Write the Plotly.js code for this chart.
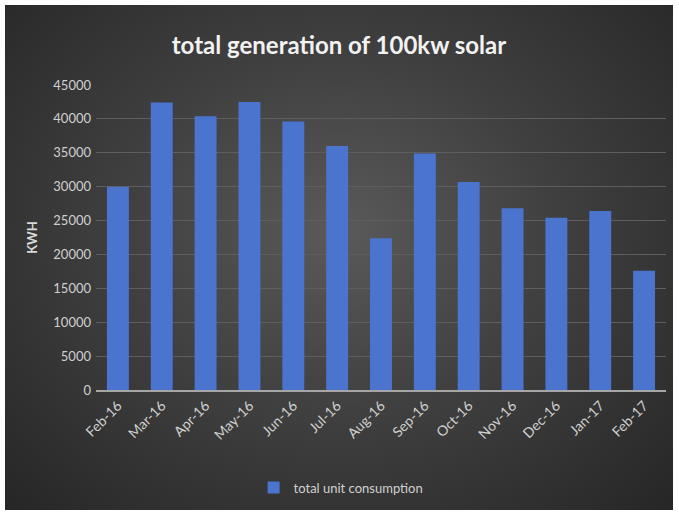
<!DOCTYPE html>
<html>
<head>
<meta charset="utf-8">
<script src="https://cdn.plot.ly/plotly-3.0.1.min.js"></script>
<style>
  html, body { margin: 0; padding: 0; background: #ffffff; width: 679px; height: 516px; overflow: hidden; }
  #chart {
    position: absolute; left: 5px; top: 5px; width: 668px; height: 505px;
    background: radial-gradient(ellipse at 50% 45%, #5a5a5a 0%, #404040 45%, #262626 100%);
  }
</style>
</head>
<body>
<div id="chart"></div>
<script>
const months = ["Feb-16","Mar-16","Apr-16","May-16","Jun-16","Jul-16","Aug-16","Sep-16","Oct-16","Nov-16","Dec-16","Jan-17","Feb-17"];
const generation = [30000, 42400, 40400, 42500, 39600, 36000, 22400, 34900, 30700, 26800, 25400, 26400, 17600];
const seriesName = "total unit consumption";
const yTicks = [0,5000,10000,15000,20000,25000,30000,35000,40000,45000];

const trace = {
  type: "bar",
  x: months,
  y: generation,
  name: seriesName,
  marker: { color: "#4a74cd", line: { width: 0 } },
  hoverinfo: "x+y"
};

const layout = {
  width: 668, height: 505,
  paper_bgcolor: "rgba(0,0,0,0)",
  plot_bgcolor: "rgba(0,0,0,0)",
  font: { family: "Lato, 'Open Sans', sans-serif", color: "#d9d9d9", size: 13 },
  margin: { l: 91, r: 7, t: 80, b: 118 },
  title: {
    text: "<b>total generation of 100kw solar</b>",
    font: { family: "Lato, 'Open Sans', sans-serif", size: 24, color: "#f2f2f2" },
    x: 0.5, xanchor: "center", y: 0.92, yanchor: "middle"
  },
  bargap: 0.5,
  xaxis: {
    type: "category",
    tickangle: -45,
    tickfont: { size: 14, color: "#d0d0d0" },
    showgrid: false,
    showline: true, linecolor: "#a6a6a6", linewidth: 2,
    ticks: "", zeroline: false
  },
  yaxis: {
    range: [0, 45000],
    tickvals: yTicks,
    ticktext: yTicks.map(String),
    tickfont: { size: 13, color: "#d0d0d0" },
    showgrid: true, gridcolor: "#5e5e5e", gridwidth: 1,
    zeroline: false, showline: false, ticks: "",
    ticklabelstandoff: 4,
    title: { text: "<b>KWH</b>", font: { size: 13, color: "#d9d9d9" }, standoff: 12 }
  },
  showlegend: true,
  legend: {
    orientation: "h", x: 0.43, xanchor: "center", y: -0.32, yanchor: "middle",
    font: { size: 13, color: "#d0d0d0" },
    itemwidth: 30
  }
};

Plotly.newPlot("chart", [trace], layout, { displayModeBar: false, staticPlot: true });
</script>
</body>
</html>
